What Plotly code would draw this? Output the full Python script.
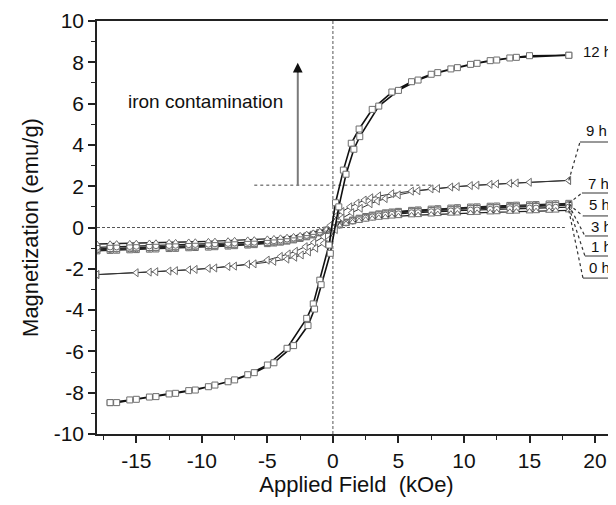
import plotly.graph_objects as go

# ---------------- data ----------------
# 12 h sample: descending-field branch (18 -> -17 kOe) and ascending branch
h12_desc = [18.0, 15.0, 13.5, 12.0, 10.5, 9.0, 7.5, 6.0, 4.5, 3.0, 2.0, 1.4, 0.8, 0.2,
            -0.3, -1.0, -1.5, -2.0, -3.5, -5.0, -6.5, -8.0, -9.5, -11.0, -12.5, -14.0, -15.5, -17.0]
m12_desc = [8.34, 8.32, 8.21, 8.08, 7.90, 7.68, 7.42, 7.06, 6.56, 5.72, 4.77, 4.08, 2.78, 1.20,
            -0.85, -2.55, -3.70, -4.40, -5.85, -6.66, -7.13, -7.47, -7.71, -7.90, -8.06, -8.21, -8.35, -8.48]
h12_asc = [-17.0, -16.5, -15.0, -13.5, -12.0, -10.5, -9.0, -7.5, -6.0, -4.5, -3.0, -1.9, -1.4, -0.9,
           -0.2, 0.45, 1.0, 1.6, 2.05, 3.5, 5.0, 6.5, 8.0, 9.5, 11.0, 12.5, 14.0, 18.0]
m12_asc = [-8.48, -8.48, -8.32, -8.19, -8.03, -7.87, -7.63, -7.38, -7.03, -6.55, -5.72, -4.75, -3.95, -2.77,
           -1.25, 1.00, 2.58, 3.79, 4.40, 5.88, 6.64, 7.14, 7.50, 7.74, 7.95, 8.11, 8.24, 8.34]

# 9 h sample
h9_desc = [18.0, 15.0, 13.5, 12.0, 10.5, 9.0, 7.5, 6.0, 4.5, 3.5, 2.9, 2.4, 1.85, 1.3, 0.7, 0.3,
           -0.2, -0.7, -1.45, -2.1, -2.85, -3.4, -4.0, -5.0, -6.5, -8.0, -9.5, -11.0, -12.5, -14.0, -18.0]
m9_desc = [2.28, 2.19, 2.14, 2.09, 2.03, 1.96, 1.87, 1.76, 1.64, 1.53, 1.44, 1.33, 1.18, 1.00, 0.77, 0.58,
           0.10, -0.45, -0.72, -0.93, -1.15, -1.28, -1.40, -1.58, -1.78, -1.89, -1.98, -2.05, -2.11, -2.16, -2.28]
h9_asc = [-18.0, -15.0, -13.5, -12.0, -10.5, -9.0, -7.5, -6.0, -4.5, -3.5, -2.9, -2.4, -1.85, -1.3, -0.7, -0.3,
          0.2, 0.7, 1.45, 2.1, 2.85, 3.4, 4.0, 5.0, 6.5, 8.0, 9.5, 11.0, 12.5, 14.0, 18.0]
m9_asc = [-2.28, -2.19, -2.14, -2.09, -2.03, -1.96, -1.87, -1.76, -1.64, -1.53, -1.44, -1.33, -1.18, -1.00, -0.77, -0.58,
          -0.10, 0.45, 0.72, 0.93, 1.15, 1.28, 1.40, 1.58, 1.78, 1.89, 1.98, 2.05, 2.11, 2.16, 2.28]

# 0-7 h samples share one field grid
h_small = [-18.0, -17.0, -16.5, -15.5, -15.0, -14.0, -13.5, -12.5, -12.0, -11.0, -10.5, -9.5, -9.0, -8.0,
           -7.5, -6.5, -6.0, -5.0, -4.5, -4.0, -3.5, -3.0, -2.5, -2.0, -1.5, -1.0, -0.5, 0.0, 0.5, 1.0,
           1.5, 2.0, 2.5, 3.0, 3.5, 4.0, 4.5, 5.0, 6.0, 6.5, 7.5, 8.0, 9.0, 9.5, 10.5, 11.0, 12.0, 12.5,
           13.5, 14.0, 15.0, 15.5, 16.5, 17.0, 18.0]
m7 = [-1.13, -1.11, -1.10, -1.08, -1.07, -1.05, -1.04, -1.02, -1.01, -0.98, -0.97, -0.95, -0.93, -0.90,
      -0.88, -0.85, -0.83, -0.78, -0.75, -0.71, -0.66, -0.60, -0.53, -0.45, -0.36, -0.26, -0.14, 0.00, 0.14, 0.26,
      0.36, 0.45, 0.53, 0.60, 0.66, 0.71, 0.75, 0.78, 0.83, 0.85, 0.89, 0.91, 0.94, 0.96, 0.99, 1.00, 1.03, 1.04,
      1.07, 1.08, 1.10, 1.11, 1.14, 1.15, 1.17]
m5 = [-1.09, -1.07, -1.06, -1.04, -1.03, -1.01, -1.00, -0.98, -0.97, -0.94, -0.93, -0.91, -0.89, -0.86,
      -0.85, -0.82, -0.80, -0.75, -0.72, -0.68, -0.63, -0.58, -0.51, -0.43, -0.35, -0.25, -0.13, 0.00, 0.13, 0.25,
      0.35, 0.43, 0.51, 0.58, 0.63, 0.68, 0.72, 0.75, 0.80, 0.82, 0.85, 0.87, 0.90, 0.92, 0.95, 0.96, 0.99, 1.00,
      1.03, 1.04, 1.06, 1.07, 1.09, 1.10, 1.12]
m3 = [-1.04, -1.02, -1.01, -0.99, -0.98, -0.97, -0.96, -0.94, -0.93, -0.90, -0.89, -0.87, -0.86, -0.83,
      -0.81, -0.78, -0.76, -0.72, -0.69, -0.65, -0.61, -0.55, -0.49, -0.41, -0.33, -0.24, -0.13, 0.00, 0.13, 0.24,
      0.33, 0.41, 0.49, 0.55, 0.61, 0.65, 0.69, 0.72, 0.76, 0.78, 0.82, 0.84, 0.86, 0.88, 0.91, 0.92, 0.95, 0.96,
      0.98, 0.99, 1.01, 1.02, 1.05, 1.06, 1.08]
m1 = [-0.96, -0.94, -0.94, -0.92, -0.91, -0.89, -0.88, -0.87, -0.86, -0.83, -0.82, -0.81, -0.79, -0.77,
      -0.75, -0.72, -0.71, -0.66, -0.64, -0.60, -0.56, -0.51, -0.45, -0.38, -0.31, -0.22, -0.12, 0.00, 0.12, 0.22,
      0.31, 0.38, 0.45, 0.51, 0.56, 0.60, 0.64, 0.66, 0.71, 0.72, 0.76, 0.77, 0.80, 0.82, 0.84, 0.85, 0.88, 0.88,
      0.91, 0.92, 0.94, 0.94, 0.97, 0.98, 0.99]
m0 = [-0.80, -0.79, -0.78, -0.77, -0.76, -0.75, -0.74, -0.72, -0.72, -0.70, -0.69, -0.67, -0.66, -0.64,
      -0.62, -0.60, -0.59, -0.55, -0.53, -0.50, -0.47, -0.43, -0.38, -0.32, -0.26, -0.18, -0.10, 0.00, 0.10, 0.18,
      0.26, 0.32, 0.38, 0.43, 0.47, 0.50, 0.53, 0.55, 0.59, 0.60, 0.63, 0.65, 0.67, 0.68, 0.70, 0.71, 0.73, 0.74,
      0.76, 0.77, 0.78, 0.79, 0.81, 0.82, 0.83]

small_names = ["7 h", "5 h", "3 h", "1 h", "0 h"]
small_series = [m7, m5, m3, m1, m0]
small_symbols = ["square", "circle", "square", "circle", "triangle-up"]

x_tickvals = [-15, -10, -5, 0, 5, 10, 15, 20]
x_ticktext = ["-15", "-10", "-5", "0", "5", "10", "15", "20"]
y_tickvals = [-10, -8, -6, -4, -2, 0, 2, 4, 6, 8, 10]
y_ticktext = ["-10", "-8", "-6", "-4", "-2", "0", "2", "4", "6", "8", "10"]

# ---------------- figure ----------------
FONT = "Arial, Liberation Sans, Helvetica, sans-serif"
MK_EDGE = "#6e6e6e"
fig = go.Figure()

for name, ys, sym in zip(small_names, small_series, small_symbols):
    fig.add_trace(go.Scatter(
        x=h_small, y=ys, mode="lines+markers", name=name,
        line=dict(color="#222222", width=1.3),
        marker=dict(symbol=sym, size=6, color="white", line=dict(width=1, color=MK_EDGE)),
    ))

fig.add_trace(go.Scatter(
    x=h9_desc + h9_asc, y=m9_desc + m9_asc, mode="lines+markers", name="9 h",
    line=dict(color="#333333", width=1.0),
    marker=dict(symbol="triangle-left", size=7, color="white", line=dict(width=1, color=MK_EDGE)),
))
fig.add_trace(go.Scatter(
    x=h12_desc + h12_asc, y=m12_desc + m12_asc, mode="lines+markers", name="12 h",
    line=dict(color="#111111", width=1.6),
    marker=dict(symbol="square", size=6, color="white", line=dict(width=1, color=MK_EDGE)),
))

# reference lines
fig.add_shape(type="line", x0=0, x1=0, y0=0, y1=1, xref="x", yref="paper",
              line=dict(color="#555555", width=1, dash="3px,2px"), layer="below")
fig.add_shape(type="line", x0=-18, x1=17.7, y0=0, y1=0, xref="x", yref="y",
              line=dict(color="#555555", width=1, dash="3px,2px"), layer="below")
fig.add_shape(type="line", x0=-6.0, x1=7.5, y0=2.05, y1=2.05, xref="x", yref="y",
              line=dict(color="#444444", width=1, dash="dot"), layer="below")

# iron contamination arrow
fig.add_shape(type="line", x0=-2.68, x1=-2.68, y0=2.05, y1=7.55, xref="x", yref="y",
              line=dict(color="#7a7a7a", width=2))
fig.add_annotation(x=-2.68, y=7.98, ax=-2.68, ay=7.45, xref="x", yref="y", axref="x", ayref="y",
                   text="", showarrow=True, arrowhead=2, arrowsize=1.3, arrowwidth=1.5, arrowcolor="#111111")
fig.add_annotation(x=-9.73, y=6.09, xref="x", yref="y", text="iron contamination", showarrow=False,
                   font=dict(family=FONT, size=19, color="#111111"), xanchor="center", yanchor="middle")

# right-hand labels
fig.add_annotation(x=18.95, y=8.51, xref="x", yref="y", text="12 h", showarrow=False,
                   xanchor="left", yanchor="middle", font=dict(family=FONT, size=15, color="#111111"))

end_y = {"9 h": m9_desc[0], "7 h": m7[-1], "5 h": m5[-1], "3 h": m3[-1], "1 h": m1[-1], "0 h": m0[-1]}
label_pos = {  # (underline start x, underline y, text y)
    "9 h": (18.85, 4.14, 4.72),
    "7 h": (19.0, 1.67, 2.15),
    "5 h": (19.08, 0.56, 1.09),
    "3 h": (19.23, -0.41, 0.07),
    "1 h": (19.23, -1.38, -0.90),
    "0 h": (19.08, -2.45, -1.96),
}
for name, (ux, uy, ty) in label_pos.items():
    fig.add_shape(type="line", x0=ux, x1=21.6, y0=uy, y1=uy, xref="x", yref="y",
                  line=dict(color="#333333", width=1))
    fig.add_shape(type="line", x0=18.0, x1=ux, y0=end_y[name], y1=uy, xref="x", yref="y",
                  line=dict(color="#333333", width=1.2, dash="dot"))
    fig.add_annotation(x=ux + 0.3, y=ty, xref="x", yref="y", text=name, showarrow=False,
                       xanchor="left", yanchor="middle", font=dict(family=FONT, size=15, color="#111111"))

axis_common = dict(
    showgrid=False, zeroline=False, showline=True, linecolor="#222222", linewidth=1.5,
    ticks="outside", ticklen=7, tickwidth=1.5, tickcolor="#222222",
    tickfont=dict(family=FONT, size=21, color="#111111"),
)
fig.update_xaxes(
    range=[-18, 21.6], tickmode="array", tickvals=x_tickvals, ticktext=x_ticktext, mirror=True,
    minor=dict(dtick=2.5, tick0=0, ticks="outside", ticklen=4, tickwidth=1.2, tickcolor="#222222", showgrid=False),
    title=dict(text="Applied Field\u00a0 (kOe)", font=dict(family=FONT, size=22, color="#111111"), standoff=4),
    **axis_common,
)
fig.update_yaxes(
    range=[-10, 10], tickmode="array", tickvals=y_tickvals, ticktext=y_ticktext, mirror=False,
    minor=dict(dtick=1, tick0=0, ticks="outside", ticklen=4, tickwidth=1.2, tickcolor="#222222", showgrid=False),
    title=dict(text="Magnetization (emu/g)", font=dict(family=FONT, size=22, color="#111111"), standoff=9),
    **axis_common,
)
# the page body adds an 8 px margin, so the figure is sized/offset to compensate
fig.update_layout(
    width=608, height=489, margin=dict(l=89, r=0, t=13, b=63, autoexpand=False),
    plot_bgcolor="white", paper_bgcolor="white", showlegend=False,
)
fig.write_html("out.html")
